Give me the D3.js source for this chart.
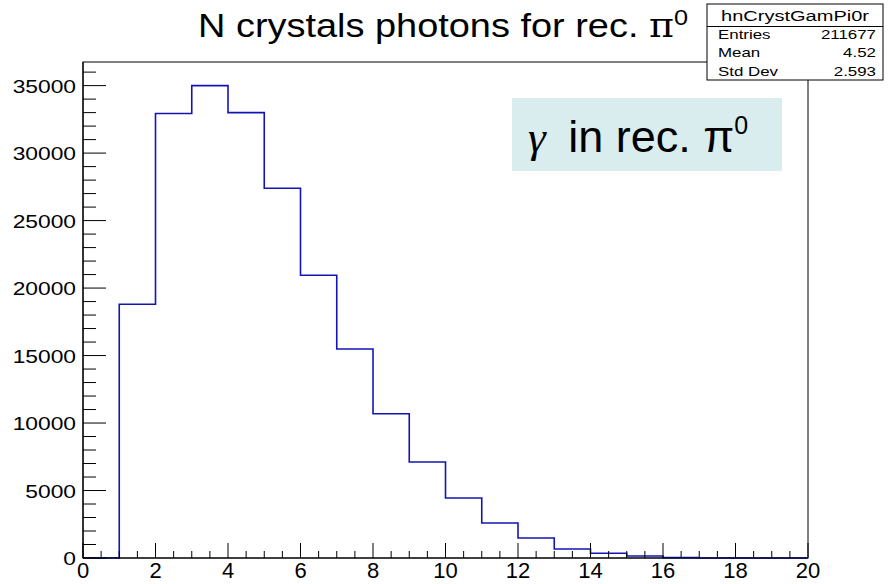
<!DOCTYPE html>
<html>
<head>
<meta charset="utf-8">
<script src="https://cdn.jsdelivr.net/npm/d3@7"></script>
<style>
  html, body { margin: 0; padding: 0; background: #fff; }
  svg { display: block; font-family: "Liberation Sans", Arial, Helvetica, sans-serif; }
</style>
</head>
<body>
<svg id="chart" width="888" height="584"></svg>
<script>
// Histogram: number of crystals per photon of reconstructed pi0
const binLow = [0, 1, 2, 3, 4, 5, 6, 7, 8, 9, 10, 11, 12, 13, 14, 15, 16, 17, 18, 19];
const counts = [0, 18800, 32930, 35000, 33000, 27400, 20950, 15490, 10690, 7115,
                4450, 2590, 1480, 667, 348, 148, 30, 0, 0, 0];
const binWidth = 1;

const xTickValues = [0, 2, 4, 6, 8, 10, 12, 14, 16, 18, 20];
const yTickValues = [0, 5000, 10000, 15000, 20000, 25000, 30000, 35000];

const histName = "hnCrystGamPi0r";
const statLabels = ["Entries", "Mean", "Std Dev"];
const statValues = ["211677", "4.52", "2.593"];

const svg = d3.select("#chart");
const frame = { left: 83, right: 808, top: 62, bottom: 558 };

const x = d3.scaleLinear().domain([0, 20]).range([frame.left, frame.right]);
const yMax = d3.max(counts) * 1.05;
const y = d3.scaleLinear().domain([0, yMax]).range([frame.bottom, frame.top]);

// Frame
svg.append("rect")
  .attr("x", frame.left).attr("y", frame.top)
  .attr("width", frame.right - frame.left).attr("height", frame.bottom - frame.top)
  .attr("fill", "none").attr("stroke", "#000").attr("stroke-width", 1);

// Step outline of the histogram
const pts = [[x(binLow[0]), y(0)]];
binLow.forEach((lo, i) => {
  pts.push([x(lo), y(counts[i])]);
  pts.push([x(lo + binWidth), y(counts[i])]);
});
pts.push([x(binLow[binLow.length - 1] + binWidth), y(0)]);
svg.append("path")
  .attr("d", d3.line()(pts))
  .attr("fill", "none")
  .attr("stroke", "#1414b4")
  .attr("stroke-width", 1.6);

// X axis ticks (inside, pointing up)
const xMinor = d3.range(0, 20.001, 0.5);
svg.append("g").selectAll("line").data(xMinor).join("line")
  .attr("x1", d => x(d)).attr("x2", d => x(d))
  .attr("y1", frame.bottom)
  .attr("y2", d => frame.bottom - (Math.abs(d % 2) < 1e-6 ? 15 : 7))
  .attr("stroke", "#000").attr("stroke-width", 1);
svg.append("line")
  .attr("x1", frame.left).attr("x2", frame.right)
  .attr("y1", frame.bottom).attr("y2", frame.bottom)
  .attr("stroke", "#000").attr("stroke-width", 1.2);

svg.append("g").selectAll("text").data(xTickValues).join("text")
  .attr("transform", d => `translate(${x(d)},577.5)`)
  .attr("text-anchor", "middle")
  .attr("font-size", 22)
  .attr("fill", "#000")
  .text(d => d);

// Y axis ticks (inside, pointing right)
const yMinor = d3.range(0, yMax, 1000);
svg.append("g").selectAll("line").data(yMinor).join("line")
  .attr("x1", frame.left)
  .attr("x2", d => frame.left + (d % 5000 === 0 ? 23 : 13))
  .attr("y1", d => y(d)).attr("y2", d => y(d))
  .attr("stroke", "#000").attr("stroke-width", 1);
svg.append("line")
  .attr("x1", frame.left).attr("x2", frame.left)
  .attr("y1", frame.top).attr("y2", frame.bottom)
  .attr("stroke", "#000").attr("stroke-width", 1.2);

svg.append("g").selectAll("text").data(yTickValues).join("text")
  .attr("transform", d => `translate(76,${y(d) + 7}) scale(1.2,1)`)
  .attr("text-anchor", "end")
  .attr("font-size", 19)
  .attr("fill", "#000")
  .text(d => d);

// Title
const title = svg.append("text")
  .attr("x", 198).attr("y", 37)
  .attr("font-size", 33)
  .attr("fill", "#000")
  .attr("textLength", 490)
  .attr("lengthAdjust", "spacingAndGlyphs");
title.append("tspan").text("N crystals photons for rec. ");
title.append("tspan").attr("font-family", "DejaVu Serif, Liberation Serif, serif").text("\u03C0");
title.append("tspan").attr("dy", -12).attr("font-size", 22).text("0");

// Statistics box
const stat = svg.append("g");
stat.append("rect")
  .attr("x", 707).attr("y", 4).attr("width", 176).attr("height", 76)
  .attr("fill", "#fff").attr("stroke", "#000").attr("stroke-width", 1);
stat.append("line")
  .attr("x1", 707).attr("x2", 883).attr("y1", 26.5).attr("y2", 26.5)
  .attr("stroke", "#000").attr("stroke-width", 1);
stat.append("text")
  .attr("x", 795).attr("y", 21)
  .attr("text-anchor", "middle")
  .attr("font-size", 14)
  .attr("textLength", 148)
  .attr("lengthAdjust", "spacingAndGlyphs")
  .text(histName);
const rowY = [38.5, 57, 75.5];
stat.selectAll("text.lab").data(statLabels).join("text")
  .attr("class", "lab")
  .attr("transform", (d, i) => `translate(718,${rowY[i]}) scale(1.3,1)`)
  .attr("font-size", 13)
  .text(d => d);
stat.selectAll("text.val").data(statValues).join("text")
  .attr("class", "val")
  .attr("transform", (d, i) => `translate(876,${rowY[i]}) scale(1.3,1)`)
  .attr("text-anchor", "end")
  .attr("font-size", 13)
  .text(d => d);

// Label box
svg.append("rect")
  .attr("x", 512).attr("y", 98).attr("width", 270).attr("height", 73)
  .attr("fill", "#d9ecee");
const lab = svg.append("text")
  .attr("x", 528).attr("y", 152)
  .attr("font-size", 45)
  .attr("fill", "#000");
lab.append("tspan")
  .attr("font-family", "Liberation Serif, DejaVu Serif, serif")
  .attr("font-style", "italic")
  .text("\u03B3");
lab.append("tspan").attr("dx", 10).text(" in rec. \u03C0");
lab.append("tspan").attr("dy", -18).attr("font-size", 25).text("0");
</script>
</body>
</html>
